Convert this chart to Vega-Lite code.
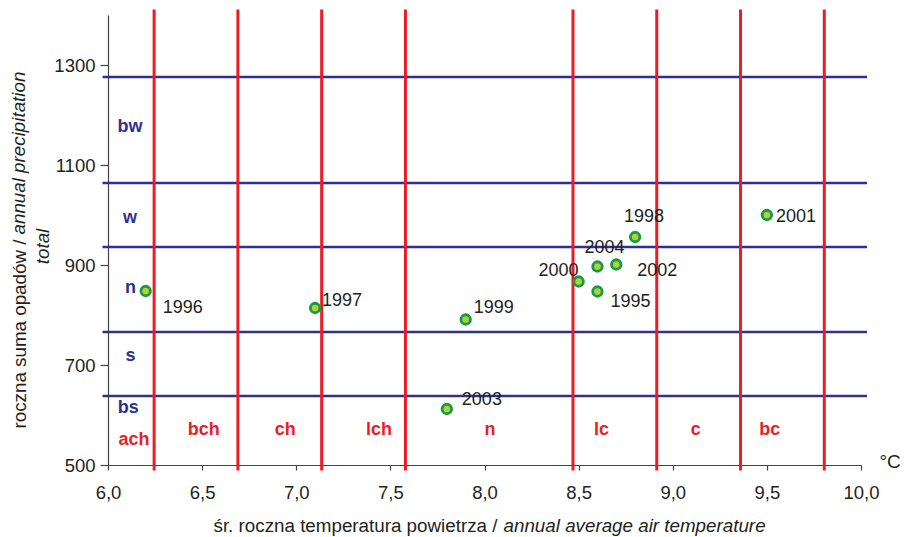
{
  "$schema": "https://vega.github.io/schema/vega-lite/v6.json",
  "width": 753,
  "height": 450,
  "autosize": {"type": "none"},
  "padding": {"left": 108, "top": 15, "right": 43, "bottom": 72},
  "background": "white",
  "config": {
    "view": {"stroke": null},
    "font": "Liberation Sans",
    "text": {"font": "Liberation Sans"},
    "axis": {"labelFont": "Liberation Sans", "titleFont": "Liberation Sans", "labelFlush": false}
  },
  "datasets": {
    "pts": [
      {"year": "1995", "t": 8.6, "p": 847},
      {"year": "1996", "t": 6.2, "p": 848},
      {"year": "1997", "t": 7.1, "p": 814},
      {"year": "1998", "t": 8.8, "p": 956},
      {"year": "1999", "t": 7.9, "p": 791},
      {"year": "2000", "t": 8.5, "p": 867},
      {"year": "2001", "t": 9.5, "p": 1000},
      {"year": "2002", "t": 8.7, "p": 901},
      {"year": "2003", "t": 7.8, "p": 612},
      {"year": "2004", "t": 8.6, "p": 897}
    ],
    "red": [
      {"t": 6.245}, {"t": 6.69}, {"t": 7.135}, {"t": 7.58},
      {"t": 8.47}, {"t": 8.915}, {"t": 9.36}, {"t": 9.805}
    ],
    "blue": [
      {"p": 1276}, {"p": 1064}, {"p": 936}, {"p": 766}, {"p": 638}
    ],
    "zones": [
      {"label": "bw", "kind": "opady", "x": 6.117, "y": 1166},
      {"label": "w", "kind": "opady", "x": 6.117, "y": 984},
      {"label": "n", "kind": "opady", "x": 6.12, "y": 844},
      {"label": "s", "kind": "opady", "x": 6.12, "y": 708},
      {"label": "bs", "kind": "opady", "x": 6.108, "y": 604},
      {"label": "ach", "kind": "temp", "x": 6.138, "y": 541},
      {"label": "bch", "kind": "temp", "x": 6.509, "y": 560},
      {"label": "ch", "kind": "temp", "x": 6.941, "y": 560},
      {"label": "lch", "kind": "temp", "x": 7.439, "y": 560},
      {"label": "n", "kind": "temp", "x": 8.029, "y": 560},
      {"label": "lc", "kind": "temp", "x": 8.621, "y": 561},
      {"label": "c", "kind": "temp", "x": 9.122, "y": 561},
      {"label": "bc", "kind": "temp", "x": 9.515, "y": 561}
    ],
    "notes": [{"txt": "x"}]
  },
  "data": {"name": "pts"},
  "layer": [
    {
      "data": {"name": "blue"},
      "mark": {"type": "rule", "color": "#2e3192", "strokeWidth": 2.5},
      "encoding": {
        "y": {"field": "p", "type": "quantitative", "scale": {"domain": [500, 1400], "nice": false, "zero": false}},
        "x": {"datum": 5.971, "type": "quantitative", "scale": {"domain": [6, 10], "nice": false, "zero": false}},
        "x2": {"datum": 10.032}
      }
    },
    {
      "data": {"name": "red"},
      "mark": {"type": "rule", "color": "#ed1c24", "strokeWidth": 3},
      "encoding": {
        "x": {"field": "t", "type": "quantitative", "scale": {"domain": [6, 10], "nice": false, "zero": false}},
        "y": {"datum": 1411, "type": "quantitative", "scale": {"domain": [500, 1400], "nice": false, "zero": false}},
        "y2": {"datum": 489}
      }
    },
    {
      "mark": {"type": "point", "shape": "circle", "filled": true, "size": 90, "fill": "#b5cf3a", "stroke": "#179a45", "strokeWidth": 2.8, "opacity": 1},
      "encoding": {
        "x": {
          "field": "t", "type": "quantitative",
          "scale": {"domain": [6, 10], "nice": false, "zero": false},
          "axis": {
            "values": [6, 6.5, 7, 7.5, 8, 8.5, 9, 9.5, 10],
            "labelExpr": "replace(format(datum.value, '.1f'), '.', ',')",
            "labelFontSize": 18.5, "labelColor": "#231f20", "labelPadding": 13, "labelFlush": false,
            "tickSize": 5, "tickColor": "#444", "domainColor": "#444", "domainWidth": 1.2, "tickWidth": 1.2,
            "grid": false,
            "title": "śr. roczna temperatura powietrza /",
            "titleFontSize": 18.8, "titleFontWeight": "normal", "titleColor": "#231f20",
            "titleX": 105, "titleY": 60, "titleAlign": "left", "titleBaseline": "middle", "titleAnchor": null
          }
        },
        "y": {
          "field": "p", "type": "quantitative",
          "scale": {"domain": [500, 1400], "nice": false, "zero": false},
          "axis": {
            "values": [500, 700, 900, 1100, 1300],
            "format": "d",
            "labelFontSize": 18.5, "labelColor": "#231f20", "labelPadding": 5, "labelFlush": false,
            "tickSize": 8, "tickColor": "#444", "domainColor": "#444", "domainWidth": 1.2, "tickWidth": 1.2,
            "grid": false,
            "title": "roczna suma opadów /",
            "titleFontSize": 18.8, "titleFontWeight": "normal", "titleColor": "#231f20",
            "titleAngle": 270, "titleX": -89, "titleY": 413, "titleAlign": "left", "titleBaseline": "middle", "titleAnchor": null
          }
        }
      }
    },
    {
      "transform": [{"filter": "datum.year == '1996'"}],
      "mark": {"type": "text", "fontSize": 18, "color": "#231f20", "align": "left", "baseline": "middle", "dx": 17, "dy": 17},
      "encoding": {"x": {"field": "t", "type": "quantitative"}, "y": {"field": "p", "type": "quantitative"}, "text": {"field": "year"}}
    },
    {
      "transform": [{"filter": "datum.year == '1997'"}],
      "mark": {"type": "text", "fontSize": 18, "color": "#231f20", "align": "left", "baseline": "middle", "dx": 7, "dy": -7},
      "encoding": {"x": {"field": "t", "type": "quantitative"}, "y": {"field": "p", "type": "quantitative"}, "text": {"field": "year"}}
    },
    {
      "transform": [{"filter": "datum.year == '1999'"}],
      "mark": {"type": "text", "fontSize": 18, "color": "#231f20", "align": "left", "baseline": "middle", "dx": 8, "dy": -12},
      "encoding": {"x": {"field": "t", "type": "quantitative"}, "y": {"field": "p", "type": "quantitative"}, "text": {"field": "year"}}
    },
    {
      "transform": [{"filter": "datum.year == '2003'"}],
      "mark": {"type": "text", "fontSize": 18, "color": "#231f20", "align": "left", "baseline": "middle", "dx": 15, "dy": -9},
      "encoding": {"x": {"field": "t", "type": "quantitative"}, "y": {"field": "p", "type": "quantitative"}, "text": {"field": "year"}}
    },
    {
      "transform": [{"filter": "datum.year == '2000'"}],
      "mark": {"type": "text", "fontSize": 18, "color": "#231f20", "align": "right", "baseline": "middle", "dx": 0, "dy": -11},
      "encoding": {"x": {"field": "t", "type": "quantitative"}, "y": {"field": "p", "type": "quantitative"}, "text": {"field": "year"}}
    },
    {
      "transform": [{"filter": "datum.year == '2004'"}],
      "mark": {"type": "text", "fontSize": 18, "color": "#231f20", "align": "center", "baseline": "middle", "dx": 7, "dy": -19},
      "encoding": {"x": {"field": "t", "type": "quantitative"}, "y": {"field": "p", "type": "quantitative"}, "text": {"field": "year"}}
    },
    {
      "transform": [{"filter": "datum.year == '2002'"}],
      "mark": {"type": "text", "fontSize": 18, "color": "#231f20", "align": "left", "baseline": "middle", "dx": 21, "dy": 6},
      "encoding": {"x": {"field": "t", "type": "quantitative"}, "y": {"field": "p", "type": "quantitative"}, "text": {"field": "year"}}
    },
    {
      "transform": [{"filter": "datum.year == '1995'"}],
      "mark": {"type": "text", "fontSize": 18, "color": "#231f20", "align": "left", "baseline": "middle", "dx": 13, "dy": 10},
      "encoding": {"x": {"field": "t", "type": "quantitative"}, "y": {"field": "p", "type": "quantitative"}, "text": {"field": "year"}}
    },
    {
      "transform": [{"filter": "datum.year == '1998'"}],
      "mark": {"type": "text", "fontSize": 18, "color": "#231f20", "align": "center", "baseline": "middle", "dx": 9, "dy": -20},
      "encoding": {"x": {"field": "t", "type": "quantitative"}, "y": {"field": "p", "type": "quantitative"}, "text": {"field": "year"}}
    },
    {
      "transform": [{"filter": "datum.year == '2001'"}],
      "mark": {"type": "text", "fontSize": 18, "color": "#231f20", "align": "left", "baseline": "middle", "dx": 9, "dy": 2},
      "encoding": {"x": {"field": "t", "type": "quantitative"}, "y": {"field": "p", "type": "quantitative"}, "text": {"field": "year"}}
    },
    {
      "data": {"name": "zones"},
      "mark": {"type": "text", "fontSize": 18, "fontWeight": "bold", "align": "center", "baseline": "alphabetic"},
      "encoding": {
        "x": {"field": "x", "type": "quantitative"},
        "y": {"field": "y", "type": "quantitative"},
        "text": {"field": "label"},
        "color": {"field": "kind", "type": "nominal", "scale": {"domain": ["opady", "temp"], "range": ["#2e3192", "#ed1c24"]}, "legend": null}
      }
    },
    {
      "data": {"name": "notes"},
      "mark": {"type": "text", "fontSize": 18.8, "fontStyle": "italic", "color": "#231f20", "align": "left", "baseline": "middle", "text": "annual average air temperature"},
      "encoding": {"x": {"datum": 8.101, "type": "quantitative"}, "y": {"datum": 379, "type": "quantitative"}}
    },
    {
      "data": {"name": "notes"},
      "mark": {"type": "text", "fontSize": 18.8, "fontStyle": "italic", "color": "#231f20", "align": "left", "baseline": "middle", "angle": 270, "text": "annual precipitation"},
      "encoding": {"x": {"datum": 5.527, "type": "quantitative"}, "y": {"datum": 961, "type": "quantitative"}}
    },
    {
      "data": {"name": "notes"},
      "mark": {"type": "text", "fontSize": 18.8, "fontStyle": "italic", "color": "#231f20", "align": "center", "baseline": "middle", "angle": 270, "text": "total"},
      "encoding": {"x": {"datum": 5.655, "type": "quantitative"}, "y": {"datum": 937, "type": "quantitative"}}
    },
    {
      "data": {"name": "notes"},
      "mark": {"type": "text", "fontSize": 19, "color": "#231f20", "align": "left", "baseline": "middle", "text": "°C"},
      "encoding": {"x": {"datum": 10.098, "type": "quantitative"}, "y": {"datum": 507, "type": "quantitative"}}
    }
  ]
}
